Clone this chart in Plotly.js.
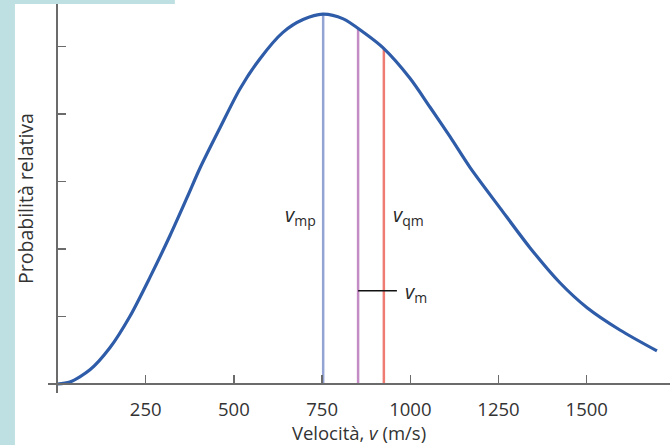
<!DOCTYPE html>
<html>
<head>
<meta charset="utf-8">
<script src="https://cdn.plot.ly/plotly-3.0.1.min.js"></script>
<style>html,body{margin:0;padding:0;background:#fff;}#chart{width:670px;height:445px;}</style>
</head>
<body>
<div id="chart"></div>
<script>
// Velocity (m/s) and relative probability (tick units)
var speeds = [0, 35, 92, 149, 205, 262, 319, 367, 404, 461, 517, 574, 639, 696, 752, 810, 870, 923, 999, 1056, 1113, 1169, 1254, 1339, 1424, 1501, 1594, 1699];
var probability = [0, 0.03, 0.21, 0.54, 1.0, 1.58, 2.2, 2.76, 3.2, 3.8, 4.37, 4.82, 5.21, 5.40, 5.48, 5.41, 5.20, 4.98, 4.53, 4.10, 3.66, 3.21, 2.61, 2.02, 1.50, 1.13, 0.80, 0.49];

// Characteristic speeds and their heights on the curve
var markNames = ['mp', 'm', 'qm'];
var markSpeeds = [753, 852, 925];
var markHeights = [5.48, 5.27, 4.98];
var markColors = ['#93a3d3', '#c48cc4', '#ee7c72'];

var xTicks = [250, 500, 750, 1000, 1250, 1500];
var yTicks = [1, 2, 3, 4, 5];

// Label positions (data units)
var labelX = {mp: 737, qm: 945, m: 980};
var labelY = {mp: 2.5, qm: 2.5, m: 1.36};
var leaderEnd = 962;

var traces = [];
for (var i = 0; i < markSpeeds.length; i++) {
  traces.push({
    x: [markSpeeds[i], markSpeeds[i]],
    y: [0, markHeights[i]],
    mode: 'lines', type: 'scatter', hoverinfo: 'skip',
    line: {color: markColors[i], width: 2.5}
  });
}
traces.push({
  x: [markSpeeds[1], leaderEnd],
  y: [labelY.m + 0.02, labelY.m + 0.02],
  mode: 'lines', type: 'scatter', hoverinfo: 'skip',
  line: {color: '#111', width: 1.5}
});
traces.push({
  x: speeds, y: probability,
  mode: 'lines', type: 'scatter',
  line: {color: '#2e5ca8', width: 3.2, shape: 'spline', smoothing: 0.8}
});

var xr = [-26.9, 1736];
var yr = [-0.1333, 5.63];

var labelFont = {family: 'Open Sans, sans-serif', size: 20, color: '#2a2a2a'};

var layout = {
  width: 670, height: 445,
  margin: {l: 48, r: 0, t: 4, b: 52},
  paper_bgcolor: '#ffffff', plot_bgcolor: '#ffffff',
  showlegend: false,
  font: {family: 'Open Sans, sans-serif', color: '#333'},
  xaxis: {
    range: xr, anchor: 'free', position: (0 - yr[0]) / (yr[1] - yr[0]),
    showline: true, linecolor: '#6b6b6b', linewidth: 2,
    showgrid: false, zeroline: false,
    tickmode: 'array', tickvals: xTicks, ticktext: xTicks.map(String),
    ticks: 'inside', ticklen: 8, tickwidth: 1.5, tickcolor: '#6b6b6b',
    tickfont: {size: 18.5, color: '#333'},
    ticklabelstandoff: 9,
    title: {text: 'Velocità, <i>v</i> (m/s)', font: {size: 18.5, color: '#333'}, standoff: 4},
    automargin: false
  },
  yaxis: {
    range: yr, anchor: 'free', position: (0 - xr[0]) / (xr[1] - xr[0]),
    showline: true, linecolor: '#6b6b6b', linewidth: 2,
    showgrid: false, zeroline: false,
    tickmode: 'array', tickvals: yTicks, showticklabels: false,
    ticks: 'inside', ticklen: 8, tickwidth: 1.5, tickcolor: '#6b6b6b',
    title: {text: 'Probabilità relativa', font: {size: 19.5, color: '#333'}, standoff: 17},
    automargin: false
  },
  shapes: [
    {type: 'rect', xref: 'paper', yref: 'paper', x0: -0.0772, x1: -0.0531, y0: -0.2, y1: 1.02, fillcolor: '#bfe0e3', line: {width: 0}, layer: 'below'},
    {type: 'rect', xref: 'paper', yref: 'paper', x0: -0.0772, x1: 0.204, y0: 1.0, y1: 1.02, fillcolor: '#bfe0e3', line: {width: 0}, layer: 'below'}
  ],
  annotations: [
    {x: labelX.mp, y: labelY.mp, xref: 'x', yref: 'y', xanchor: 'right', yanchor: 'middle', showarrow: false, text: '<i>v</i><sub>' + markNames[0] + '</sub>', font: labelFont},
    {x: labelX.qm, y: labelY.qm, xref: 'x', yref: 'y', xanchor: 'left', yanchor: 'middle', showarrow: false, text: '<i>v</i><sub>' + markNames[2] + '</sub>', font: labelFont},
    {x: labelX.m, y: labelY.m, xref: 'x', yref: 'y', xanchor: 'left', yanchor: 'middle', showarrow: false, text: '<i>v</i><sub>' + markNames[1] + '</sub>', font: labelFont}
  ]
};

Plotly.newPlot('chart', traces, layout, {displayModeBar: false, staticPlot: true});
</script>
</body>
</html>
